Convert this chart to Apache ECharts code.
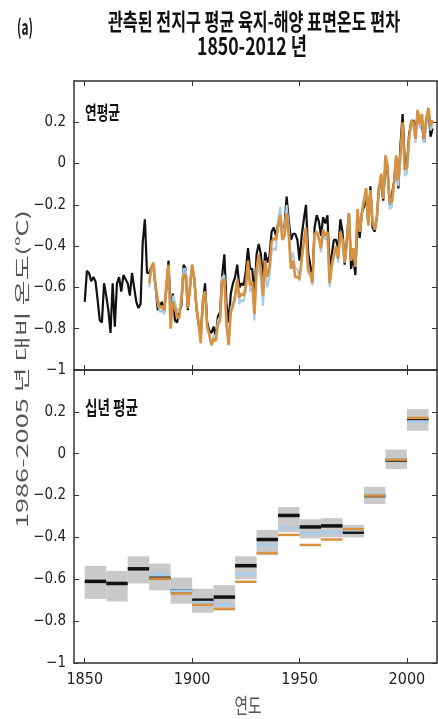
<!DOCTYPE html>
<html><head><meta charset="utf-8">
<script src="https://cdn.jsdelivr.net/npm/echarts@6/dist/echarts.min.js"></script>
<style>html,body{margin:0;padding:0;background:#fff}#c{width:438px;height:719px}</style>
</head><body><div id="c"></div>
<script>
// ---------- DATA ----------
const blackStart = 1850; // HadCRUT4-like, annual (relative to 1986-2005)
const blackAnnual = [
-0.67,-0.52,-0.53,-0.57,-0.55,-0.57,-0.66,-0.76,-0.77,-0.58,
-0.64,-0.71,-0.82,-0.58,-0.79,-0.58,-0.55,-0.62,-0.54,-0.56,
-0.58,-0.64,-0.53,-0.60,-0.67,-0.70,-0.68,-0.38,-0.27,-0.53,
-0.53,-0.50,-0.51,-0.60,-0.71,-0.69,-0.67,-0.72,-0.61,-0.47,
-0.72,-0.63,-0.76,-0.77,-0.71,-0.69,-0.49,-0.51,-0.71,-0.59,
-0.50,-0.56,-0.70,-0.78,-0.82,-0.68,-0.58,-0.77,-0.81,-0.82,
-0.79,-0.84,-0.74,-0.72,-0.54,-0.44,-0.68,-0.77,-0.63,-0.58,
-0.55,-0.49,-0.60,-0.58,-0.59,-0.52,-0.41,-0.51,-0.51,-0.65,
-0.44,-0.39,-0.44,-0.57,-0.43,-0.48,-0.45,-0.33,-0.31,-0.35,
-0.29,-0.28,-0.33,-0.30,-0.16,-0.28,-0.37,-0.34,-0.34,-0.37,
-0.47,-0.35,-0.27,-0.20,-0.43,-0.49,-0.57,-0.31,-0.25,-0.28,
-0.35,-0.26,-0.29,-0.25,-0.52,-0.44,-0.37,-0.37,-0.41,-0.27,
-0.33,-0.49,-0.37,-0.24,-0.51,-0.45,-0.54,-0.25,-0.36,-0.24,
-0.21,-0.16,-0.29,-0.11,-0.31,-0.33,-0.26,-0.11,-0.10,-0.18,
0.00,-0.05,-0.20,-0.15,-0.09,0.03,-0.12,0.09,0.24,0.01,
-0.01,0.14,0.20,0.21,0.15,0.25,0.21,0.19,0.10,0.21,
0.26,0.13,0.17];
const blueStart = 1880; // GISS-like
const blueAnnual = [
-0.60,-0.52,-0.50,-0.61,-0.68,-0.72,-0.71,-0.73,-0.60,-0.51,
-0.77,-0.64,-0.67,-0.71,-0.72,-0.63,-0.51,-0.51,-0.67,-0.58,
-0.49,-0.55,-0.69,-0.77,-0.87,-0.66,-0.62,-0.79,-0.83,-0.88,
-0.83,-0.84,-0.76,-0.74,-0.55,-0.54,-0.76,-0.86,-0.70,-0.67,
-0.67,-0.59,-0.68,-0.66,-0.67,-0.62,-0.50,-0.62,-0.60,-0.76,
-0.56,-0.49,-0.56,-0.69,-0.52,-0.60,-0.55,-0.43,-0.41,-0.42,
-0.27,-0.21,-0.33,-0.31,-0.20,-0.31,-0.47,-0.43,-0.51,-0.51,
-0.57,-0.47,-0.39,-0.32,-0.53,-0.54,-0.59,-0.35,-0.34,-0.37,
-0.43,-0.34,-0.37,-0.35,-0.60,-0.51,-0.46,-0.42,-0.48,-0.35,
-0.37,-0.48,-0.39,-0.24,-0.47,-0.41,-0.50,-0.22,-0.33,-0.24,
-0.18,-0.12,-0.30,-0.13,-0.28,-0.32,-0.26,-0.12,-0.05,-0.17,
0.01,-0.04,-0.22,-0.21,-0.12,0.01,-0.11,0.02,0.17,-0.06,
-0.05,0.10,0.19,0.18,0.10,0.24,0.17,0.22,0.10,0.20,
0.27,0.16,0.19];
const orangeStart = 1880; // MLOST-like
const orangeAnnual = [
-0.58,-0.50,-0.48,-0.59,-0.66,-0.70,-0.69,-0.71,-0.58,-0.49,
-0.80,-0.67,-0.70,-0.74,-0.75,-0.66,-0.54,-0.54,-0.70,-0.61,
-0.49,-0.55,-0.69,-0.77,-0.87,-0.66,-0.62,-0.79,-0.83,-0.88,
-0.85,-0.86,-0.78,-0.76,-0.57,-0.56,-0.78,-0.88,-0.72,-0.69,
-0.64,-0.56,-0.65,-0.63,-0.64,-0.59,-0.47,-0.59,-0.57,-0.73,
-0.51,-0.44,-0.51,-0.64,-0.47,-0.55,-0.50,-0.38,-0.36,-0.37,
-0.31,-0.25,-0.37,-0.35,-0.24,-0.35,-0.51,-0.47,-0.55,-0.55,
-0.56,-0.46,-0.38,-0.31,-0.52,-0.53,-0.58,-0.34,-0.33,-0.36,
-0.41,-0.32,-0.35,-0.33,-0.58,-0.49,-0.44,-0.40,-0.46,-0.33,
-0.37,-0.48,-0.39,-0.24,-0.47,-0.41,-0.50,-0.22,-0.33,-0.24,
-0.18,-0.12,-0.30,-0.13,-0.28,-0.32,-0.26,-0.12,-0.05,-0.17,
0.04,-0.01,-0.19,-0.18,-0.09,0.04,-0.08,0.05,0.20,-0.03,
-0.02,0.12,0.21,0.20,0.12,0.26,0.19,0.24,0.12,0.22,
0.27,0.18,0.21];

const decades = [1850,1860,1870,1880,1890,1900,1910,1920,1930,1940,1950,1960,1970,1980,1990,2000];
const decBlack  = [-0.61,-0.62,-0.55,-0.595,-0.655,-0.70,-0.685,-0.535,-0.41,-0.295,-0.35,-0.345,-0.375,-0.20,-0.03,0.165];
const decBlue   = [null,null,null,-0.578,-0.655,-0.71,-0.72,-0.575,-0.435,-0.355,-0.38,-0.376,-0.365,-0.195,-0.025,0.153];
const decOrange = [null,null,null,-0.597,-0.668,-0.722,-0.742,-0.612,-0.475,-0.388,-0.436,-0.41,-0.36,-0.20,-0.028,0.171];
const decHigh   = [-0.536,-0.56,-0.49,-0.525,-0.592,-0.645,-0.627,-0.49,-0.364,-0.255,-0.313,-0.308,-0.34,-0.158,0.02,0.214];
const decLow    = [-0.694,-0.706,-0.62,-0.653,-0.717,-0.76,-0.748,-0.60,-0.485,-0.375,-0.405,-0.40,-0.40,-0.24,-0.073,0.11];

const xTicks = [1850,1900,1950,2000];
const yTicks = [-1,-0.8,-0.6,-0.4,-0.2,0,0.2];

const titleLine1 = '관측된 전지구 평균 육지-해양 표면온도 편차';
const titleLine2 = '1850-2012 년';
const panelLabel1 = '연평균';
const panelLabel2 = '십년 평균';
const xName = '연도';
const yName = '1986-2005 년 대비 온도(℃)';

// ---------- CHART ----------
const KR = '"Noto Sans CJK KR","Noto Sans CJK SC",sans-serif';
const NUM = '"Liberation Sans Narrow","DejaVu Sans Condensed","Liberation Sans",sans-serif';
const mctx = document.createElement('canvas').getContext('2d');
function fit(text, font, w){ mctx.font = font; return w / mctx.measureText(text).width; }

const toPairs = (start, arr) => arr.map((v, i) => [start + i, v]);
const decPairs = (arr) => decades.map((d, i) => [d, arr[i]]).filter(p => p[1] !== null);
const boxData = decades.map((d, i) => [d, decLow[i], decHigh[i]]);

const axisColor = '#333';
const fmtY = v => (v < 0 ? '\u2212' + String(Math.abs(v)) : String(v));
const fmtX = v => String(v);

function xAx(grid, pos, labels){
  return {type:'value', gridIndex:grid, position:pos, min:1845, max:2014,
    axisLine:{show:true, onZero:false, lineStyle:{color:axisColor, width:1.5}},
    axisTick:{show:true, inside:true, length:5, customValues:xTicks, lineStyle:{color:axisColor, width:1}},
    axisLabel:{show:labels, customValues:xTicks, formatter:fmtX, margin:9, color:'#222', fontSize:16, fontFamily:NUM},
    splitLine:{show:false}};
}
function yAx(grid, pos, labels){
  return {type:'value', gridIndex:grid, position:pos, min:-1, max:0.4,
    axisLine:{show:true, onZero:false, lineStyle:{color:axisColor, width:1.5}},
    axisTick:{show:true, inside:true, length:5, customValues:yTicks, lineStyle:{color:axisColor, width:1}},
    axisLabel:{show:labels, customValues:yTicks, formatter:fmtY, margin:8, color:'#222', fontSize:15, fontFamily:NUM},
    splitLine:{show:false}};
}

function boxItem(params, api){
  const s = api.value(0), lo = api.value(1), hi = api.value(2);
  const a = api.coord([s, hi]), b = api.coord([s + 10, lo]);
  return {type:'rect', shape:{x:a[0], y:a[1], width:b[0]-a[0], height:b[1]-a[1]}, style:{fill:'#c9c9c9'}};
}
function segItem(color, width){
  return function(params, api){
    const s = api.value(0), v = api.value(1);
    const a = api.coord([s, v]), b = api.coord([s + 10, v]);
    return {type:'line', shape:{x1:a[0], y1:a[1], x2:b[0], y2:b[1]}, style:{stroke:color, lineWidth:width}};
  };
}

const fTitle1 = 'bold 23px ' + KR;
const fTitle2 = 'bold 24px ' + KR;
const fA = 'bold 21px ' + KR;
const fPanel = 'bold 19px ' + KR;
const fX = '21px ' + KR;
const fY = '26px ' + KR;

function txt(text, font, cx, cy, sx, color){
  return {type:'text', x:cx, y:cy, scaleX:sx, silent:true,
    style:{text:text, font:font, fill:color, textAlign:'center', textVerticalAlign:'middle'}};
}
function ltxt(text, font, lx, cy, sx, color){
  return {type:'text', x:lx, y:cy, scaleX:sx, silent:true,
    style:{text:text, font:font, fill:color, textAlign:'left', textVerticalAlign:'middle'}};
}

const yScaleAlong = fit(yName, fY, 318);

const chart = echarts.init(document.getElementById('c'), null, {renderer:'canvas'});
chart.setOption({
  animation:false,
  backgroundColor:'#fff',
  grid:[
    {left:74, right:1, top:81, height:289},
    {left:74, right:1, top:370, height:293}
  ],
  xAxis:[ xAx(0,'bottom',false), xAx(0,'top',false), xAx(1,'bottom',true), xAx(1,'top',false) ],
  yAxis:[ yAx(0,'left',true), yAx(0,'right',false), yAx(1,'left',true), yAx(1,'right',false) ],
  series:[
    {name:'HadCRUT4', type:'line', xAxisIndex:0, yAxisIndex:0, data:toPairs(blackStart, blackAnnual),
      showSymbol:false, symbol:'none', z:2, lineStyle:{color:'#111', width:2.2}},
    {name:'GISS', type:'line', xAxisIndex:0, yAxisIndex:0, data:toPairs(blueStart, blueAnnual),
      showSymbol:false, symbol:'none', z:3, lineStyle:{color:'#a9cbe8', width:2}},
    {name:'MLOST', type:'line', xAxisIndex:0, yAxisIndex:0, data:toPairs(orangeStart, orangeAnnual),
      showSymbol:false, symbol:'none', z:4, lineStyle:{color:'#d8913f', width:2.6}},
    {name:'range', type:'custom', xAxisIndex:2, yAxisIndex:2, data:boxData, renderItem:boxItem,
      encode:{x:0, y:[1,2]}, z:1},
    {name:'HadCRUT4 decadal', type:'custom', xAxisIndex:2, yAxisIndex:2, data:decPairs(decBlack),
      renderItem:segItem('#111', 3.5), encode:{x:0, y:1}, z:2},
    {name:'GISS decadal', type:'custom', xAxisIndex:2, yAxisIndex:2, data:decPairs(decBlue),
      renderItem:segItem('#a9cbe8', 3), encode:{x:0, y:1}, z:3},
    {name:'MLOST decadal', type:'custom', xAxisIndex:2, yAxisIndex:2, data:decPairs(decOrange),
      renderItem:segItem('#d8913f', 2.5), encode:{x:0, y:1}, z:4}
  ],
  graphic:[
    txt('(a)', fA, 25, 27, fit('(a)', fA, 16), '#111'),
    txt(titleLine1, fTitle1, 254, 21, fit(titleLine1, fTitle1, 292), '#111'),
    txt(titleLine2, fTitle2, 252, 46, fit(titleLine2, fTitle2, 110), '#111'),
    ltxt(panelLabel1, fPanel, 85, 113, fit(panelLabel1, fPanel, 35), '#111'),
    ltxt(panelLabel2, fPanel, 85, 408, fit(panelLabel2, fPanel, 53), '#111'),
    txt(xName, fX, 248, 705, fit(xName, fX, 27), '#555'),
    {type:'text', x:22, y:369, rotation:Math.PI/2, scaleX:yScaleAlong, scaleY:0.6, silent:true,
      style:{text:yName, font:fY, fill:'#555', textAlign:'center', textVerticalAlign:'middle'}}
  ]
});
</script>
</body></html>
